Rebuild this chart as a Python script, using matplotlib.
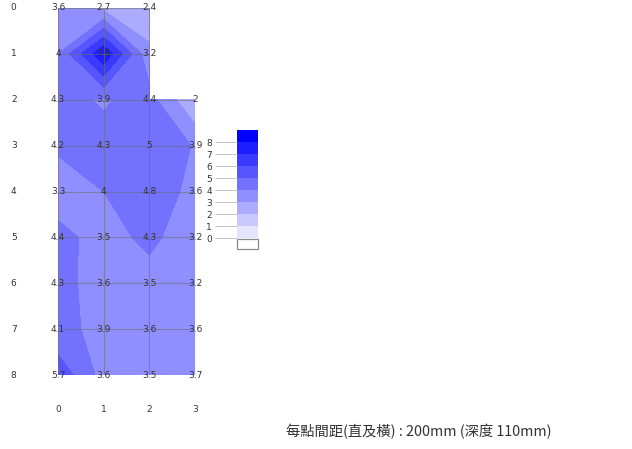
import matplotlib
matplotlib.use("Agg")
import matplotlib.pyplot as plt
from matplotlib.patches import Rectangle
import numpy as np

# ---- data ----
cols = [0, 1, 2, 3]
rows = [0, 1, 2, 3, 4, 5, 6, 7, 8]
nan = np.nan
depth = [
    [3.6, 2.7, 2.4, nan],
    [4.0, 7.9, 3.2, nan],
    [4.3, 3.9, 4.4, 2.0],
    [4.2, 4.3, 5.0, 3.9],
    [3.3, 4.0, 4.8, 3.6],
    [4.4, 3.5, 4.3, 3.2],
    [4.3, 3.6, 3.5, 3.2],
    [4.1, 3.9, 3.6, 3.6],
    [5.7, 3.6, 3.5, 3.7],
]
levels = [0, 1, 2, 3, 4, 5, 6, 7, 8, 100]
cbar_ticks = [0, 1, 2, 3, 4, 5, 6, 7, 8]
note = "每點間距(直及橫) : 200mm (深度 110mm)"

Z = np.ma.masked_invalid(np.array(depth))
X, Y = np.meshgrid(cols, rows)

# white -> blue bands
band_colors = [(v / 255, v / 255, 1.0) for v in np.linspace(228, 0, 9)]

W, H = 632, 449
fig = plt.figure(figsize=(W / 100, H / 100), dpi=100)

# main plot area: col 0..3 -> x 58..195, row 0..8 -> y 8..375
ax = fig.add_axes([58 / W, 1 - 375 / H, (195 - 58) / W, (375 - 8) / H])
ax.contourf(X, Y, Z, levels=levels, colors=band_colors, corner_mask=False)
ax.set_xlim(0, 3)
ax.set_ylim(8, 0)
ax.axis("off")

grid_kw = dict(color="#6e6e6e", alpha=0.55, lw=0.8, zorder=3)
for r in rows:
    last = 2 if r < 2 else 3
    ax.plot([0, last], [r, r], **grid_kw)
for c in cols:
    first = 2 if c == 3 else 0
    ax.plot([c, c], [first, 8], **grid_kw)

for i, r in enumerate(rows):
    for j, c in enumerate(cols):
        v = depth[i][j]
        if np.isnan(v):
            continue
        s = f"{v:g}"
        ax.text(c, r, s, ha="center", va="center", fontsize=6.5,
                color="#333333", zorder=4, clip_on=False)

for r in rows:
    ax.text(-0.97, r, str(r), ha="center", va="center", fontsize=6.5,
            color="#333333", clip_on=False)
for c in cols:
    ax.text(c, 8.76, str(c), ha="center", va="center", fontsize=6.5,
            color="#333333", clip_on=False)

# legend bar
cax = fig.add_axes([237 / W, 1 - 250 / H, 21 / W, 120 / H])
cax.bar([0] * len(cbar_ticks), [1] * len(cbar_ticks), bottom=cbar_ticks,
        width=1, color=band_colors, edgecolor="none")
cax.add_patch(Rectangle((-0.48, -0.94), 0.96, 0.88, facecolor="white",
                        edgecolor="#8a8a8a", lw=0.9, zorder=3, clip_on=False))
cax.set_xlim(-0.5, 0.5)
cax.set_ylim(-1, 9)
for s in cax.spines.values():
    s.set_visible(False)
cax.set_xticks([])
cax.set_yticks(cbar_ticks)
cax.set_yticklabels([str(t) for t in cbar_ticks])
cax.tick_params(axis="y", length=16, width=0.6, color="#bbbbbb",
                labelsize=6.5, labelcolor="#333333", pad=2)

fig.text(286 / W, 1 - 432 / H, note, ha="left", va="center", fontsize=10.3,
         color="#333333", family=["Noto Sans CJK TC", "DejaVu Sans"])

fig.savefig("out.png", dpi=100, facecolor="white")
